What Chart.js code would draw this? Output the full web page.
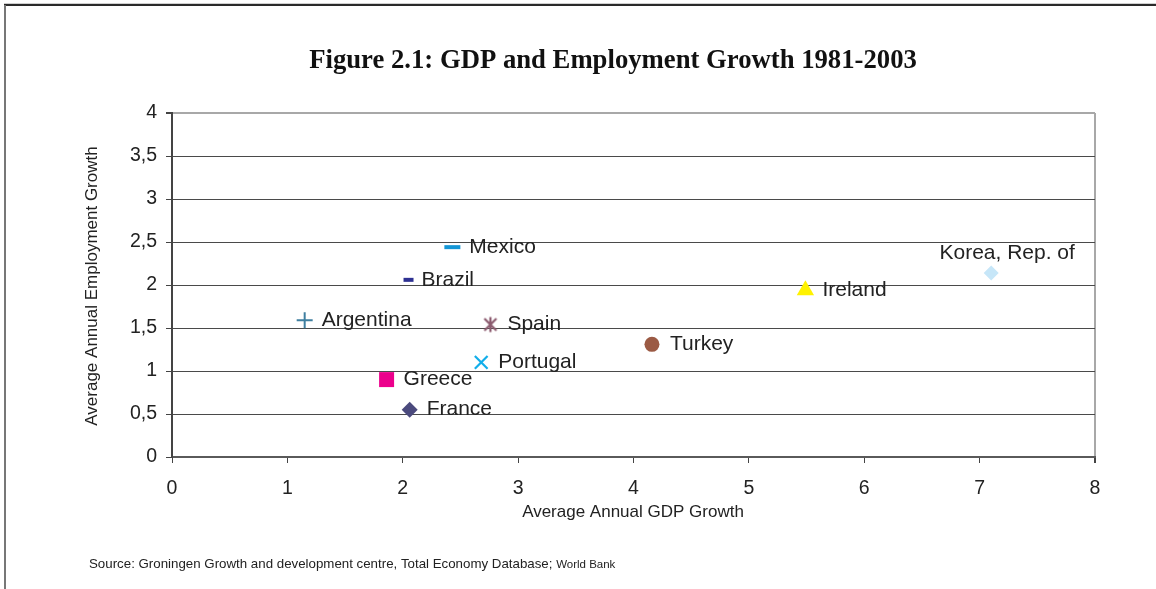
<!DOCTYPE html>
<html>
<head>
<meta charset="utf-8">
<title>GDP and Employment Growth 1981-2003</title>
<script src="https://cdn.jsdelivr.net/npm/chart.js@4"></script>
<style>
    html, body { margin: 0; padding: 0; background: #fff; }
    #wrap { position: relative; width: 1156px; height: 589px; }
</style>
</head>
<body>
<div id="wrap"><canvas id="growthChart" width="1156" height="589"></canvas></div>
<script>
// Average annual growth, 1981-2003 (%)
const countries = ["Mexico", "Brazil", "Argentina", "Spain", "Portugal", "Greece", "France", "Turkey", "Ireland", "Korea, Rep. of"];
const gdpGrowth = [2.43, 2.05, 1.15, 2.76, 2.68, 1.86, 2.06, 4.16, 5.49, 7.10];
const employmentGrowth = [2.44, 2.06, 1.59, 1.54, 1.10, 0.90, 0.55, 1.31, 1.94, 2.14];
const xTicks = [0, 1, 2, 3, 4, 5, 6, 7, 8];
const yTicks = [0, 0.5, 1, 1.5, 2, 2.5, 3, 3.5, 4];

const SANS = "'Liberation Sans', Arial, sans-serif";
const SERIF = "'Liberation Serif', 'Times New Roman', serif";

// asterisk marker (x plus vertical bar)
function asteriskMarker(color, size) {
    const c = document.createElement("canvas");
    c.width = size; c.height = size;
    const g = c.getContext("2d");
    const h = size / 2, r = size / 2 - 1.5;
    g.strokeStyle = color;
    g.lineWidth = 2.2;
    g.beginPath();
    g.moveTo(h - r * 0.8, h - r * 0.8); g.lineTo(h + r * 0.8, h + r * 0.8);
    g.moveTo(h + r * 0.8, h - r * 0.8); g.lineTo(h - r * 0.8, h + r * 0.8);
    g.moveTo(h, h - r); g.lineTo(h, h + r);
    g.stroke();
    return c;
}

// marker look per country, same order as countries
const markers = [
    { style: "line", color: "#1496d6", radius: 8, width: 4, gap: 17 },
    { style: "line", color: "#2e3192", radius: 5, width: 4, gap: 13 },
    { style: "cross", color: "#3f7fa0", radius: 8, width: 2, gap: 17 },
    { style: asteriskMarker("#8b5a6e", 18), color: "#8b5a6e", radius: 9, width: 2, gap: 17 },
    { style: "crossRot", color: "#12aeea", radius: 9, width: 2.2, gap: 17 },
    { style: "rect", color: "#ec008c", radius: 10.6, width: 0, gap: 17 },
    { style: "rectRot", color: "#4b4a7d", radius: 8, width: 0, gap: 17 },
    { style: "circle", color: "#9b5a44", radius: 7.5, width: 0, gap: 18 },
    { style: "triangle", color: "#fff200", radius: 10, width: 0, gap: 17 },
    { style: "rectRot", color: "#c6e6f8", radius: 7.5, width: 0, gap: 0, above: true }
];

const datasets = countries.map((name, i) => ({
    label: name,
    data: [{ x: gdpGrowth[i], y: employmentGrowth[i] }],
    pointStyle: markers[i].style,
    pointRadius: markers[i].radius,
    pointHoverRadius: markers[i].radius,
    backgroundColor: markers[i].color,
    borderColor: markers[i].color,
    pointBorderWidth: markers[i].width,
    labelGap: markers[i].gap,
    labelAbove: !!markers[i].above
}));

const decorations = {
    id: "decorations",
    beforeDraw(chart) {
        const ctx = chart.ctx;
        ctx.save();
        ctx.fillStyle = "#fff";
        ctx.fillRect(0, 0, chart.width, chart.height);
        // frame around the figure
        ctx.strokeStyle = "#cfcfcf";
        ctx.lineWidth = 1;
        ctx.beginPath(); ctx.moveTo(4, 3.5); ctx.lineTo(chart.width, 3.5); ctx.stroke();
        ctx.strokeStyle = "#2a2a2a";
        ctx.lineWidth = 2;
        ctx.beginPath(); ctx.moveTo(4, 5); ctx.lineTo(chart.width, 5); ctx.stroke();
        ctx.strokeStyle = "#777";
        ctx.beginPath(); ctx.moveTo(5, 5); ctx.lineTo(5, chart.height); ctx.stroke();

        // title
        ctx.fillStyle = "#111";
        ctx.textAlign = "center";
        ctx.textBaseline = "middle";
        ctx.font = "bold 26.7px " + SERIF;
        ctx.fillText("Figure 2.1: GDP and Employment Growth 1981-2003", 613, 61);

        // axis titles
        ctx.fillStyle = "#222";
        ctx.font = "17px " + SANS;
        ctx.fillText("Average Annual GDP Growth", 633, 512);
        ctx.save();
        ctx.translate(92, 286);
        ctx.rotate(-Math.PI / 2);
        ctx.fillText("Average Annual Employment Growth", 0, 0);
        ctx.restore();

        // source line
        ctx.textAlign = "left";
        ctx.textBaseline = "alphabetic";
        ctx.font = "13.3px " + SANS;
        const src = "Source: Groningen Growth and development centre, Total Economy Database; ";
        ctx.fillText(src, 89, 568);
        const w = ctx.measureText(src).width;
        ctx.font = "11.5px " + SANS;
        ctx.fillText("World Bank", 89 + w, 568);
        ctx.restore();
    },
    afterDatasetsDraw(chart) {
        const ctx = chart.ctx;
        ctx.save();
        ctx.fillStyle = "#222";
        ctx.font = "21px " + SANS;
        ctx.textBaseline = "middle";
        chart.data.datasets.forEach((ds, i) => {
            const pt = chart.getDatasetMeta(i).data[0];
            if (ds.labelAbove) {
                ctx.textAlign = "center";
                ctx.fillText(ds.label, pt.x + 16, pt.y - 20);
            } else {
                ctx.textAlign = "left";
                ctx.fillText(ds.label, pt.x + ds.labelGap, pt.y);
            }
        });
        ctx.restore();
    }
};

new Chart(document.getElementById("growthChart"), {
    type: "scatter",
    data: { datasets: datasets },
    options: {
        responsive: false,
        devicePixelRatio: 1,
        animation: false,
        events: [],
        layout: { padding: { left: 0, right: 61, top: 113, bottom: 72 } },
        plugins: {
            legend: { display: false },
            tooltip: { enabled: false }
        },
        scales: {
            x: {
                type: "linear",
                min: xTicks[0],
                max: xTicks[xTicks.length - 1],
                afterBuildTicks: scale => { scale.ticks = xTicks.map(v => ({ value: v })); },
                afterFit: scale => { scale.height = 60; },
                border: { color: "#5a5a5a", width: 2 },
                grid: {
                    color: c => c.tick && c.tick.value === 8 ? "#a8a8a8" : "rgba(0,0,0,0)",
                    lineWidth: c => c.tick && c.tick.value === 8 ? 2 : 1,
                    tickColor: "#444",
                    tickLength: 6,
                    drawTicks: true
                },
                ticks: {
                    color: "#222",
                    font: { family: SANS, size: 19.5 },
                    padding: 14
                }
            },
            y: {
                type: "linear",
                min: yTicks[0],
                max: yTicks[yTicks.length - 1],
                afterBuildTicks: scale => { scale.ticks = yTicks.map(v => ({ value: v })); },
                afterFit: scale => { scale.width = 172; },
                border: { color: "#444", width: 2 },
                grid: {
                    color: c => c.tick && c.tick.value === 4 ? "#a8a8a8" : "#4a4a4a",
                    lineWidth: c => c.tick && c.tick.value === 4 ? 2 : 1,
                    tickColor: "#444",
                    tickLength: 6
                },
                ticks: {
                    color: "#222",
                    font: { family: SANS, size: 19.5 },
                    padding: 9,
                    callback: v => String(v).replace(".", ",")
                }
            }
        }
    },
    plugins: [decorations]
});
</script>
</body>
</html>
